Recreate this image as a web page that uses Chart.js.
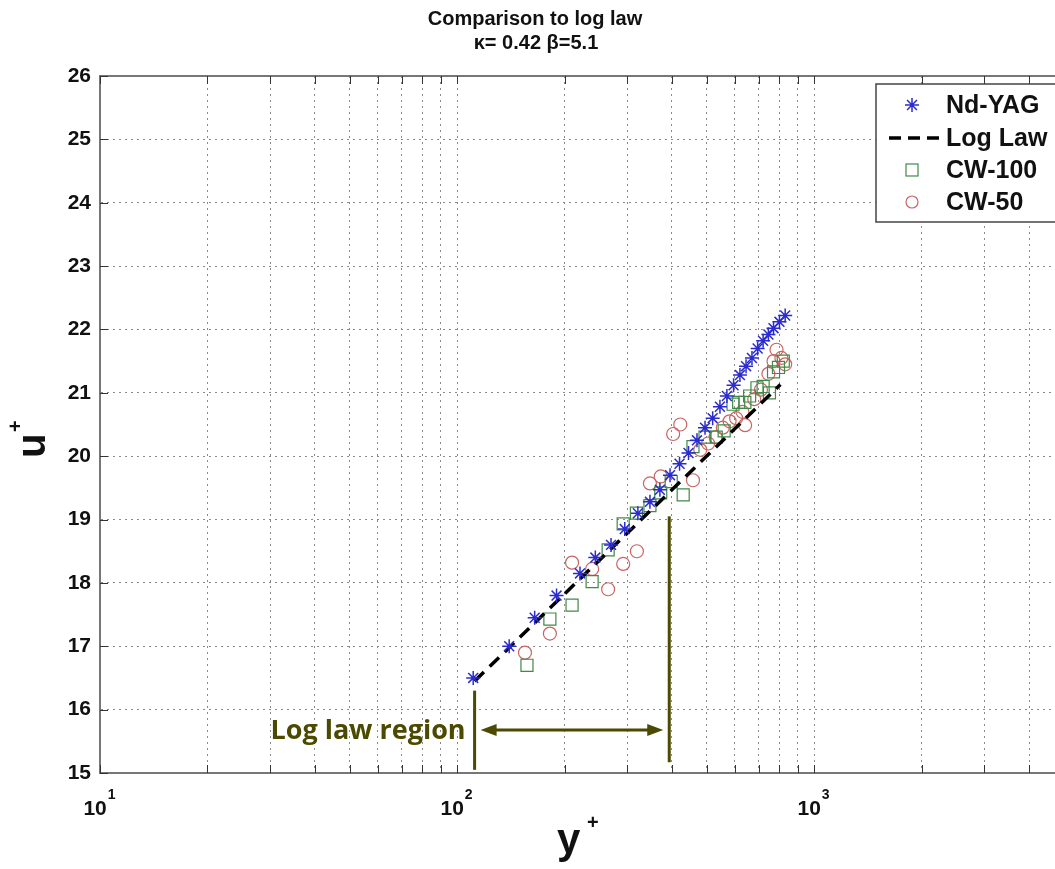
<!DOCTYPE html>
<html>
<head>
<meta charset="utf-8">
<script src="https://cdn.jsdelivr.net/npm/chart.js@4.4.0/dist/chart.umd.min.js"></script>
<style>
  html, body { margin: 0; padding: 0; background: #fff; }
</style>
</head>
<body>
<canvas id="c" width="1055" height="869"></canvas>
<script>
// values
var ndyag_x = [111, 140, 165, 190, 221, 244, 270, 295, 321, 347, 370, 395, 420, 445, 470, 495, 520, 545, 570, 595, 620, 645, 670, 695, 720, 745, 770, 800, 830];
var ndyag_u = [16.5, 17.0, 17.45, 17.8, 18.15, 18.4, 18.6, 18.85, 19.1, 19.28, 19.47, 19.7, 19.88, 20.05, 20.25, 20.45, 20.6, 20.78, 20.95, 21.12, 21.28, 21.42, 21.55, 21.7, 21.82, 21.92, 22.02, 22.12, 22.22];

var loglaw_x = [112, 805];
var loglaw_u = [16.45, 21.13];

var cw100_x = [157, 182, 210, 239, 265, 292, 318, 347, 372, 398, 430, 458, 495, 532, 560, 593, 615, 640, 660, 692, 720, 750, 770, 795, 820];
var cw100_u = [16.7, 17.43, 17.65, 18.02, 18.52, 18.93, 19.1, 19.22, 19.42, 19.6, 19.39, 20.15, 20.3, 20.3, 20.4, 20.82, 20.85, 20.85, 20.95, 21.08, 21.1, 21.0, 21.33, 21.4, 21.5];

var cw50_x = [155, 182, 210, 239, 265, 292, 319, 347, 372, 403, 422, 458, 480, 505, 530, 555, 580, 605, 630, 641, 680, 710, 745, 770, 785, 810, 830];
var cw50_u = [16.9, 17.2, 18.32, 18.22, 17.9, 18.3, 18.5, 19.57, 19.68, 20.35, 20.5, 19.62, 20.1, 20.2, 20.3, 20.45, 20.55, 20.6, 20.7, 20.49, 20.9, 21.05, 21.3, 21.5, 21.68, 21.55, 21.45];

var seriesNames = ["Nd-YAG", "Log Law", "CW-100", "CW-50"];
// x tick labels: value -> [base, exponent]
var xTickValues = [10, 100, 1000];
var xTickBase = ["10", "10", "10"];
var xTickExp = ["1", "2", "3"];

// annotation: log law region
var region_x = [112, 393];
var region_lo = [15.05, 15.17];
var region_hi = [16.3, 19.05];
var region_arrow_u = 15.68;
var region_text = "Log law region";

function pts(xs, ys) {
  var out = [];
  for (var i = 0; i < xs.length; i++) out.push({ x: xs[i], y: ys[i] });
  return out;
}

var FONT = "'Liberation Sans', Arial, sans-serif";
var blue = "#2b2bd0", green = "#3f8a46", red = "#c96464", olive = "#4b4a00";

var extras = {
  id: "extras",
  afterDraw: function (chart) {
    var ctx = chart.ctx, a = chart.chartArea;
    var xs = chart.scales.x, ys = chart.scales.y;
    ctx.save();

    // top frame line
    ctx.strokeStyle = "#777"; ctx.lineWidth = 2;
    ctx.beginPath(); ctx.moveTo(a.left, a.top); ctx.lineTo(a.right + 5, a.top); ctx.stroke();

    // inward ticks
    ctx.strokeStyle = "#333"; ctx.lineWidth = 1;
    xs.ticks.forEach(function (t) {
      var p = Math.round(xs.getPixelForValue(t.value)) + 0.5;
      if (p > a.right - 1) return;
      ctx.beginPath();
      ctx.moveTo(p, a.bottom); ctx.lineTo(p, a.bottom - 8);
      ctx.moveTo(p, a.top); ctx.lineTo(p, a.top + 8);
      ctx.stroke();
    });
    ys.ticks.forEach(function (t) {
      var p = Math.round(ys.getPixelForValue(t.value)) + 0.5;
      ctx.beginPath(); ctx.moveTo(a.left, p); ctx.lineTo(a.left + 8, p); ctx.stroke();
    });

    // x tick labels with raised exponent
    ctx.fillStyle = "#111";
    ctx.textBaseline = "alphabetic"; ctx.textAlign = "left";
    for (var k = 0; k < xTickValues.length; k++) {
      var tx = xs.getPixelForValue(xTickValues[k]);
      ctx.font = "bold 21px " + FONT;
      var wb = ctx.measureText(xTickBase[k]).width;
      ctx.font = "bold 14px " + FONT;
      var we = ctx.measureText(xTickExp[k]).width;
      var sx = tx - (wb + we) / 2 - 1;
      ctx.font = "bold 21px " + FONT;
      ctx.fillText(xTickBase[k], sx, 815);
      ctx.font = "bold 14px " + FONT;
      ctx.fillText(xTickExp[k], sx + wb + 1, 799);
    }

    // title
    ctx.textAlign = "center";
    ctx.font = "bold 20px " + FONT;
    ctx.fillText("Comparison to log law", 535, 25);
    ctx.fillText("\u03ba= 0.42 \u03b2=5.1", 536, 49);

    // axis titles
    ctx.font = "bold 42px " + FONT;
    ctx.textAlign = "left";
    ctx.fillText("y", 557, 853);
    ctx.font = "bold 20px " + FONT;
    ctx.fillText("+", 587, 829);
    ctx.save();
    ctx.translate(45, 458);
    ctx.rotate(-Math.PI / 2);
    ctx.font = "bold 40px " + FONT;
    ctx.fillText("u", 0, 0);
    ctx.font = "bold 20px " + FONT;
    ctx.fillText("+", 26, -23);
    ctx.restore();

    // log law region annotation
    ctx.strokeStyle = olive; ctx.fillStyle = olive; ctx.lineWidth = 3;
    for (var i = 0; i < region_x.length; i++) {
      var px = xs.getPixelForValue(region_x[i]);
      ctx.beginPath();
      ctx.moveTo(px, ys.getPixelForValue(region_lo[i]));
      ctx.lineTo(px, ys.getPixelForValue(region_hi[i]));
      ctx.stroke();
    }
    var ay = ys.getPixelForValue(region_arrow_u);
    var x1 = xs.getPixelForValue(region_x[0]) + 6, x2 = xs.getPixelForValue(region_x[1]) - 6;
    ctx.beginPath(); ctx.moveTo(x1 + 10, ay); ctx.lineTo(x2 - 10, ay); ctx.stroke();
    ctx.beginPath();
    ctx.moveTo(x1, ay); ctx.lineTo(x1 + 16, ay - 6); ctx.lineTo(x1 + 16, ay + 6); ctx.closePath();
    ctx.moveTo(x2, ay); ctx.lineTo(x2 - 16, ay - 6); ctx.lineTo(x2 - 16, ay + 6); ctx.closePath();
    ctx.fill();
    ctx.font = "bold 27px 'Open Sans', Lato, sans-serif";
    ctx.textAlign = "right";
    ctx.fillText(region_text, xs.getPixelForValue(region_x[0]) - 9, ay + 9);

    // legend box
    ctx.fillStyle = "#fff";
    ctx.fillRect(876, 84, 190, 138);
    ctx.strokeStyle = "#444"; ctx.lineWidth = 1.5;
    ctx.strokeRect(876, 84, 190, 138);
    var rows = [105, 138, 170, 202];
    ctx.font = "bold 25px " + FONT;
    ctx.textAlign = "left"; ctx.textBaseline = "middle";
    ctx.fillStyle = "#111";
    for (var r = 0; r < rows.length; r++) ctx.fillText(seriesNames[r], 946, rows[r] + 1);
    // markers
    ctx.strokeStyle = blue; ctx.lineWidth = 1.5;
    Chart.helpers.drawPoint(ctx, { pointStyle: "star", radius: 7, borderWidth: 1.5 }, 912, rows[0]);
    ctx.strokeStyle = "#000"; ctx.lineWidth = 3.5; ctx.setLineDash([12, 7]);
    ctx.beginPath(); ctx.moveTo(889, rows[1]); ctx.lineTo(944, rows[1]); ctx.stroke();
    ctx.setLineDash([]);
    ctx.strokeStyle = green; ctx.lineWidth = 1.2;
    ctx.strokeRect(906, rows[2] - 6, 12, 12);
    ctx.strokeStyle = red;
    ctx.beginPath(); ctx.arc(912, rows[3], 6, 0, Math.PI * 2); ctx.stroke();

    ctx.restore();
  }
};

new Chart(document.getElementById("c"), {
  type: "scatter",
  data: {
    datasets: [
      {
        label: seriesNames[0],
        data: pts(ndyag_x, ndyag_u),
        pointStyle: "star",
        pointRadius: 7,
        borderColor: blue,
        backgroundColor: blue,
        pointBorderWidth: 1.5,
        order: 0
      },
      {
        label: seriesNames[1],
        type: "line",
        data: pts(loglaw_x, loglaw_u),
        borderColor: "#000",
        borderWidth: 3.5,
        borderDash: [13, 8],
        pointRadius: 0,
        fill: false,
        order: 1
      },
      {
        label: seriesNames[2],
        data: pts(cw100_x, cw100_u),
        pointStyle: "rect",
        pointRadius: 8.5,
        borderColor: green,
        backgroundColor: "rgba(0,0,0,0)",
        pointBorderWidth: 1.2,
        order: 2
      },
      {
        label: seriesNames[3],
        data: pts(cw50_x, cw50_u),
        pointStyle: "circle",
        pointRadius: 6.5,
        borderColor: red,
        backgroundColor: "rgba(0,0,0,0)",
        pointBorderWidth: 1.2,
        order: 3
      }
    ]
  },
  options: {
    responsive: false,
    animation: false,
    devicePixelRatio: 1,
    layout: { autoPadding: false, padding: { top: 76, left: 0, right: 0, bottom: 0 } },
    plugins: { legend: { display: false }, title: { display: false }, tooltip: { enabled: false } },
    scales: {
      x: {
        type: "logarithmic",
        min: 10,
        max: 4730,
        afterFit: function (s) { s.height = 96; s.paddingLeft = 0; s.paddingRight = 0; },
        grid: { color: "#8a8a8a", lineWidth: 1, drawTicks: false },
        border: { display: true, color: "#777", width: 2, dash: [2, 4] },
        ticks: {
          autoSkip: false,
          maxRotation: 0,
          padding: 16,
          color: "#111",
          font: { family: FONT, size: 21, weight: "bold" },
          // labels are drawn by the plugin (superscript exponent); keep grid at every 1..9 multiple
          callback: function (v) {
            var e = Math.floor(Math.log10(v) + 1e-9);
            var sig = v / Math.pow(10, e);
            if (Math.abs(sig - Math.round(sig)) > 1e-6) return null;
            return "";
          }
        }
      },
      y: {
        min: 15,
        max: 26,
        afterFit: function (s) { s.width = 100; },
        grid: { color: "#8a8a8a", lineWidth: 1, drawTicks: false },
        border: { display: true, color: "#777", width: 2, dash: [2, 4] },
        ticks: {
          stepSize: 1,
          padding: 9,
          color: "#111",
          font: { family: FONT, size: 21, weight: "bold" }
        }
      }
    }
  },
  plugins: [extras]
});
</script>
</body>
</html>
